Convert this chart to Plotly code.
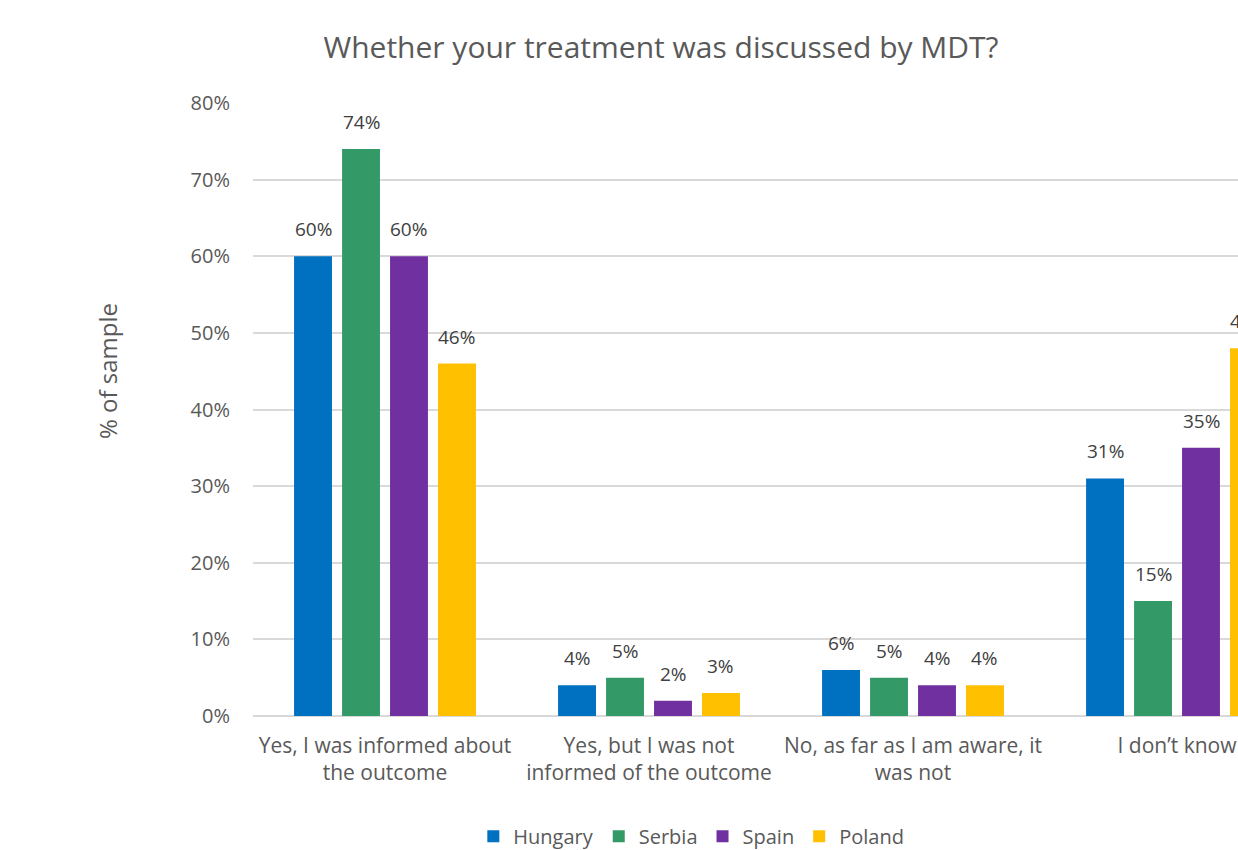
import plotly.graph_objects as go

categories = [
    "Yes, I was informed about<br>the outcome",
    "Yes, but I was not<br>informed of the outcome",
    "No, as far as I am aware, it<br>was not",
    "I don\u2019t know",
]
countries = ["Hungary", "Serbia", "Spain", "Poland"]
values = {
    "Hungary": [60, 4, 6, 31],
    "Serbia": [74, 5, 5, 15],
    "Spain": [60, 2, 4, 35],
    "Poland": [46, 3, 4, 48],
}
colors = {
    "Hungary": "#0070C0",
    "Serbia": "#339966",
    "Spain": "#7030A0",
    "Poland": "#FFC000",
}
y_ticks = [0, 10, 20, 30, 40, 50, 60, 70, 80]

FONT = "Open Sans"
GREY = "#595959"
LABEL = "#404040"

# layout geometry
W, H = 1238, 850
M_L, M_R, M_T, M_B = 253, 0, 103, 134
X_RANGE = [-0.5, 3.231]
BARGAP = 0.273
BARGROUPGAP = 0.21

fig = go.Figure()
for c in countries:
    fig.add_trace(go.Bar(
        name=c,
        x=categories,
        y=values[c],
        marker=dict(color=colors[c], line=dict(width=0)),
        cliponaxis=False,
    ))

# Value labels above each bar, shifted sideways to the bar's slot in its group
px_per_cat = (W - M_L - M_R) / (X_RANGE[1] - X_RANGE[0])
slot_px = px_per_cat * (1 - BARGAP) / len(countries)
for i, c in enumerate(countries):
    offset = (i - (len(countries) - 1) / 2) * slot_px
    for cat, v in zip(categories, values[c]):
        fig.add_annotation(
            text=f"{v}%",
            x=cat, y=v, xref="x", yref="y",
            xshift=offset, yshift=12,
            xanchor="center", yanchor="bottom",
            showarrow=False,
            font=dict(family=FONT, size=19, color=LABEL),
        )

# Rotated axis caption, placed as an annotation so it can sit off-centre
fig.add_annotation(
    text="% of sample",
    xref="paper", yref="paper",
    x=(108 - M_L) / (W - M_L - M_R), y=(H - M_B - 371) / (H - M_T - M_B),
    xanchor="center", yanchor="middle",
    textangle=-90, showarrow=False,
    font=dict(family=FONT, size=24, color=GREY),
)

fig.update_layout(
    width=W,
    height=H,
    margin=dict(l=M_L, r=M_R, t=M_T, b=M_B, autoexpand=False),
    paper_bgcolor="white",
    plot_bgcolor="white",
    barmode="group",
    bargap=BARGAP,
    bargroupgap=BARGROUPGAP,
    font=dict(family=FONT, color=GREY),
    title=dict(
        text="Whether your treatment was discussed by MDT?",
        x=661 / W, xref="container", xanchor="center",
        y=1 - 47 / H, yref="container", yanchor="middle",
        font=dict(family=FONT, size=30, color=GREY),
    ),
    showlegend=True,
    legend=dict(
        orientation="h",
        x=0.445, xanchor="center",
        y=-0.196, yanchor="middle",
        font=dict(family=FONT, size=20, color=GREY),
        itemwidth=30,
        traceorder="normal",
    ),
    xaxis=dict(
        type="category",
        range=X_RANGE,
        showgrid=False,
        showline=False,
        ticks="",
        automargin=False,
        tickfont=dict(family=FONT, size=21, color=GREY),
        ticklabelstandoff=15,
    ),
    yaxis=dict(
        range=[0, 80],
        tickvals=y_ticks,
        ticktext=[f"{t}%" for t in y_ticks],
        showgrid=True,
        gridcolor="#D9D9D9",
        gridwidth=1.5,
        zeroline=True,
        zerolinecolor="#D9D9D9",
        zerolinewidth=1.5,
        showline=False,
        ticks="",
        automargin=False,
        tickfont=dict(family=FONT, size=20, color=GREY),
        ticklabelstandoff=22,
    ),
)

fig.write_html("out.html")
